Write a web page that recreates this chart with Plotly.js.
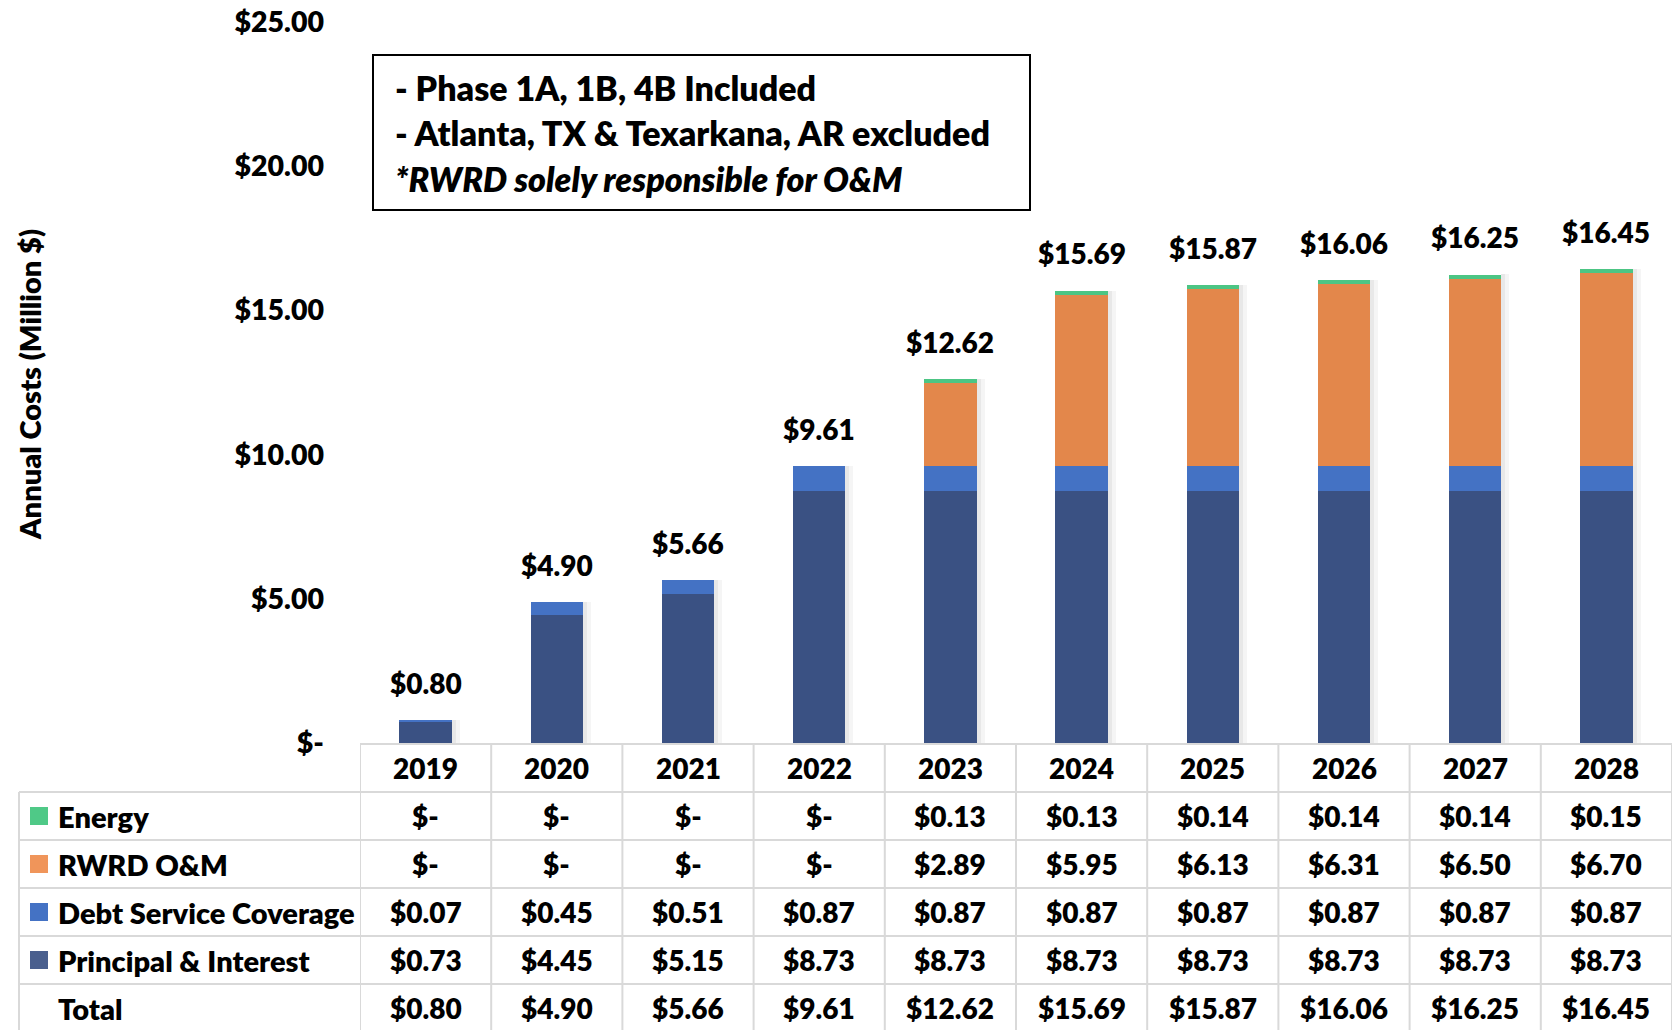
<!DOCTYPE html>
<html>
<head>
<meta charset="utf-8">
<script src="https://cdn.plot.ly/plotly-3.0.1.min.js"></script>
<style>
  html, body { margin: 0; padding: 0; background: #fff; }
  #chart { width: 1677px; height: 1030px; }
</style>
</head>
<body>
<div id="chart"></div>
<script>
// ---- data ----
const years = ['2019','2020','2021','2022','2023','2024','2025','2026','2027','2028'];
const principalInterest = [0.73, 4.45, 5.15, 8.73, 8.73, 8.73, 8.73, 8.73, 8.73, 8.73];
const debtServiceCoverage = [0.07, 0.45, 0.51, 0.87, 0.87, 0.87, 0.87, 0.87, 0.87, 0.87];
const rwrdOM = [0, 0, 0, 0, 2.89, 5.95, 6.13, 6.31, 6.50, 6.70];
const energy = [0, 0, 0, 0, 0.13, 0.13, 0.14, 0.14, 0.14, 0.15];
const totals = [0.80, 4.90, 5.66, 9.61, 12.62, 15.69, 15.87, 16.06, 16.25, 16.45];
const yTickVals = [0, 5, 10, 15, 20, 25];
const yTickText = ['$-', '$5.00', '$10.00', '$15.00', '$20.00', '$25.00'];
const seriesNames = ['Energy', 'RWRD O&M', 'Debt Service Coverage', 'Principal & Interest'];
const noteLines = ['- Phase 1A, 1B, 4B Included', '- Atlanta, TX &amp; Texarkana, AR excluded', '<i>*RWRD solely responsible for O&amp;M</i>'];

// ---- styling ----
const W = 1677, H = 1030;
const FONT = 'Lato, "Open Sans", sans-serif';
const WEIGHT = 800;
const colors = { pi: '#3A5183', dsc: '#4472C4', om: '#E3874B', en: '#4CC584' };
const swatch = {
  'Energy': '#4FC987',
  'RWRD O&M': '#F0955A',
  'Debt Service Coverage': '#4472C4',
  'Principal & Interest': '#4A5F8E'
};
const px = v => v / W;
const py = v => 1 - v / H;
const fmt = v => v === 0 ? '$-' : '$' + v.toFixed(2);
const idx = years.map((_, i) => i);

const barW = 0.4;
const traces = [
  {type:'bar', x: idx, y: principalInterest, name:'Principal & Interest', marker:{color: colors.pi}, width: barW},
  {type:'bar', x: idx, y: debtServiceCoverage, name:'Debt Service Coverage', marker:{color: colors.dsc}, width: barW},
  {type:'bar', x: idx, y: rwrdOM, name:'RWRD O&M', marker:{color: colors.om}, width: barW},
  {type:'bar', x: idx, y: energy, name:'Energy', marker:{color: colors.en}, width: barW},
  // soft shadow to the right of each bar (separate hidden axes so they do not stack)
  {type:'bar', x: idx, y: totals, yaxis:'y2', marker:{color:'rgba(0,0,0,0.09)'}, width: 0.03, offset: barW/2, hoverinfo:'skip'},
  {type:'bar', x: idx, y: totals, yaxis:'y3', marker:{color:'rgba(0,0,0,0.04)'}, width: 0.03, offset: barW/2 + 0.03, hoverinfo:'skip'}
];

const annotations = [];
const shapes = [];
const bold = (size) => ({family: FONT, size: size, color:'#000', weight: WEIGHT});

// total labels above bars
idx.forEach((i) => {
  annotations.push({x: i, y: totals[i], xref:'x', yref:'y', text: fmt(totals[i]), showarrow:false,
    xanchor:'center', yanchor:'middle', yshift: 37, font: bold(28)});
});

// y axis title
annotations.push({x: px(29), y: py(385), xref:'paper', yref:'paper', text:'Annual Costs (Million $)', textangle:-90,
  xanchor:'center', yanchor:'middle', showarrow:false, font: bold(29)});

// note box
shapes.push({type:'rect', xref:'paper', yref:'paper', x0: px(373), x1: px(1030), y0: py(55), y1: py(210),
  line:{color:'#000', width:2}, fillcolor:'rgba(0,0,0,0)'});
const noteY = [88, 133, 178];
noteLines.forEach((t, i) => {
  annotations.push({x: px(393), y: py(noteY[i]), xref:'paper', yref:'paper', text: t, xanchor:'left', yanchor:'middle',
    showarrow:false, font: bold(34)});
});

// data table
const gridColor = '#D9D9D9';
const rowTops = [744, 792, 840, 888, 936, 984];
const rowCenters = [768, 816, 864, 912, 960, 1008];
const tableLeft = 19, tableRight = 1672;
shapes.push({type:'line', xref:'paper', yref:'paper', x0: px(360), x1: px(tableRight), y0: py(rowTops[0]), y1: py(rowTops[0]), line:{color:gridColor, width:2}});
for (let r = 1; r < rowTops.length; r++) {
  shapes.push({type:'line', xref:'paper', yref:'paper', x0: px(tableLeft), x1: px(tableRight), y0: py(rowTops[r]), y1: py(rowTops[r]), line:{color:gridColor, width:2}});
}
shapes.push({type:'line', xref:'paper', yref:'paper', x0: px(tableLeft), x1: px(tableLeft), y0: py(rowTops[1]), y1: 0, line:{color:gridColor, width:2}});
for (let c = 0; c <= years.length; c++) {
  shapes.push({type:'line', xref:'x', yref:'paper', x0: c - 0.5, x1: c - 0.5, y0: py(rowTops[0]), y1: 0, line:{color:gridColor, width:2}});
}
// header (years)
idx.forEach((i) => {
  annotations.push({x: i, y: py(rowCenters[0]), xref:'x', yref:'paper', text: years[i], showarrow:false,
    xanchor:'center', yanchor:'middle', font: bold(28)});
});
const rowData = [energy, rwrdOM, debtServiceCoverage, principalInterest, totals];
const rowLabels = [...seriesNames, 'Total'];
rowLabels.forEach((lab, r) => {
  const cy = rowCenters[r + 1];
  if (swatch[lab]) {
    shapes.push({type:'rect', xref:'paper', yref:'paper', x0: px(30), x1: px(48), y0: py(cy - 9), y1: py(cy + 9),
      line:{width:0}, fillcolor: swatch[lab]});
  }
  annotations.push({x: px(56), y: py(cy), xref:'paper', yref:'paper', text: lab.replace('&', '&amp;'), xanchor:'left', yanchor:'middle',
    showarrow:false, font: bold(29)});
  rowData[r].forEach((v, i) => {
    annotations.push({x: i, y: py(cy), xref:'x', yref:'paper', text: fmt(v), showarrow:false,
      xanchor:'center', yanchor:'middle', font: bold(28)});
  });
});

const hiddenY = {domain:[py(743), py(22)], range:[0, 25], overlaying:'y', visible:false, fixedrange:true};
const layout = {
  width: W, height: H,
  margin: {l:0, r:0, t:0, b:0},
  paper_bgcolor:'#fff', plot_bgcolor:'#fff',
  barmode:'stack',
  showlegend:false,
  hovermode:false,
  font:{family: FONT, color:'#000'},
  xaxis:{domain:[px(360), px(1672)], range:[-0.5, 9.5], showticklabels:false, showgrid:false,
    zeroline:false, showline:false, ticks:'', fixedrange:true},
  yaxis:{domain:[py(743), py(22)], range:[0, 25], tickvals: yTickVals, ticktext: yTickText, showgrid:false,
    zeroline:false, showline:false, ticks:'', ticklabelstandoff: 35,
    tickfont: bold(28.5), fixedrange:true},
  yaxis2: hiddenY,
  yaxis3: Object.assign({}, hiddenY),
  shapes: shapes,
  annotations: annotations
};

Plotly.newPlot('chart', traces, layout, {displayModeBar:false, staticPlot:true});
</script>
</body>
</html>
